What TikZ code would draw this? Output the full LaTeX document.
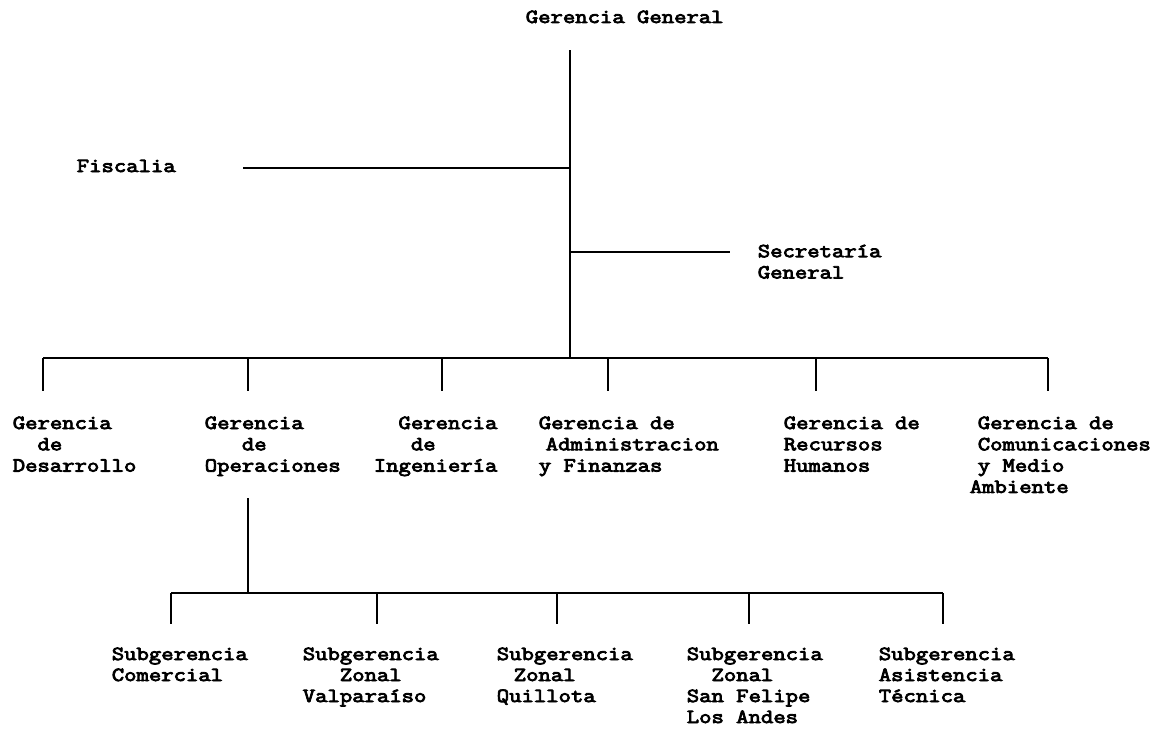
\documentclass[tikz,border=0pt]{standalone}
\usepackage{fontspec}
\setmonofont{Latin Modern Mono}[FakeStretch=1.2,FakeBold=4]
\newcommand\ind[1]{\phantom{#1}}
\begin{document}
\begin{tikzpicture}[x=1pt,y=-1pt,line width=1.6pt,
  lbl/.style={anchor=base west,inner sep=0pt,align=left,
    font=\fontsize{20}{21.3}\selectfont\ttfamily},
  sublbl/.style={lbl,font=\fontsize{20}{21}\selectfont\ttfamily}]
\useasboundingbox (0,0) rectangle (1172,728);
% labels (anchor = baseline of the last line)
\node[lbl] (gg)  at (525,23)  {Gerencia General};
\node[lbl] (fis) at (76,172)  {Fiscalia};
\node[lbl] (sec) at (757,278.5) {Secretaría\\General};
\node[lbl] (des) at (12,471.6)  {Gerencia\\\ind{xx}de\\Desarrollo};
\node[lbl] (ope) at (204,471.6) {Gerencia\\\ind{xxx}de\\Operaciones};
\node[lbl] (ing) at (373,471.6) {\ind{xx}Gerencia\\\ind{xxx}de\\Ingeniería};
\node[lbl] (adm) at (538,471.6) {Gerencia de\\\hspace*{7pt}Administracion\\y Finanzas};
\node[lbl] (rrh) at (783,471.6) {Gerencia de\\Recursos\\Humanos};
\node[lbl] (com) at (969,492.9) {\hspace*{8pt}Gerencia de\\\hspace*{8pt}Comunicaciones\\\hspace*{8pt}y Medio\\Ambiente};
\node[sublbl] (sco) at (111,681) {Subgerencia\\Comercial};
\node[sublbl] (sva) at (302,702) {Subgerencia\\\ind{xxx}Zonal\\Valparaíso};
\node[sublbl] (squ) at (496,702) {Subgerencia\\\hspace*{17pt}Zonal\\Quillota};
\node[sublbl] (ssf) at (686,723) {Subgerencia\\\ind{xx}Zonal\\San Felipe\\Los Andes};
\node[sublbl] (sat) at (878,702) {Subgerencia\\Asistencia\\Técnica};
% junctions
\coordinate (top) at (570,50);
\coordinate (jf) at (570,168);
\coordinate (fe) at (243,168);
\coordinate (js) at (570,252);
\coordinate (se) at (730,252);
\coordinate (jb) at (570,358);
\coordinate (bl) at (43,358);
\coordinate (br) at (1048,358);
\coordinate (ot) at (248,498);
\coordinate (ob) at (248,593);
\coordinate (sl) at (171,593);
\coordinate (sr) at (943,593);
% connectors
\draw (top) -- (jb);
\draw (jf) -- (fe);
\draw (js) -- (se);
\draw (bl) -- (br);
\foreach \x in {43,248,442,608,816,1048} \draw (\x,358) -- (\x,391);
\draw (ot) -- (ob);
\draw (sl) -- (sr);
\foreach \x in {171,377,557,749,943} \draw (\x,593) -- (\x,624);
\end{tikzpicture}
\end{document}
